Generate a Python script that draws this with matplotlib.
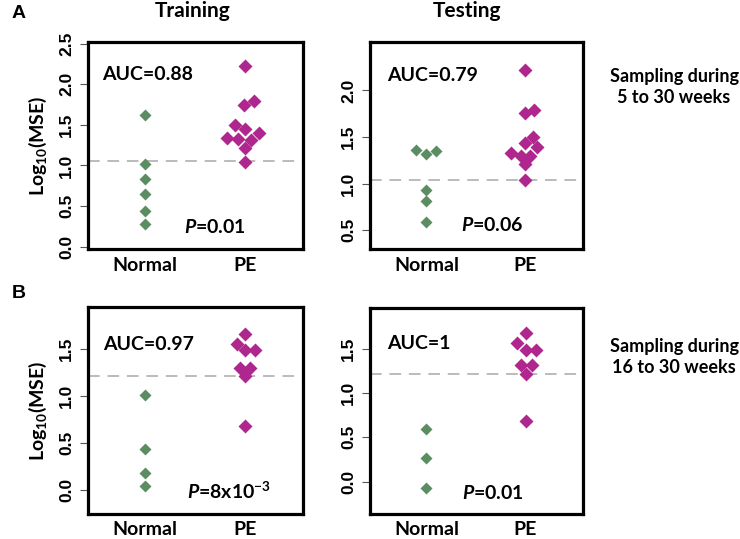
import matplotlib
matplotlib.use("Agg")
import matplotlib.pyplot as plt

plt.rcParams['font.family'] = ['Lato', 'DejaVu Sans']
plt.rcParams['mathtext.fontset'] = 'custom'
plt.rcParams['mathtext.rm'] = 'Lato:bold'
plt.rcParams['mathtext.it'] = 'Lato:bold:italic'
plt.rcParams['mathtext.bf'] = 'Lato:bold'

categories = ["Normal", "PE"]

# Panel A training
a_tr_normal = [1.62, 1.02, 0.83, 0.65, 0.44, 0.28]
a_tr_normal_x = [1.0, 1.0, 1.0, 1.0, 1.0, 1.0]
a_tr_pe = [2.22, 1.75, 1.79, 1.50, 1.45, 1.34, 1.32, 1.31, 1.40, 1.22, 1.04]
a_tr_pe_x = [2.0, 1.99, 2.09, 1.90, 2.0, 1.82, 1.93, 2.06, 2.14, 2.0, 2.0]
# Panel A testing
a_te_normal = [1.357, 1.318, 1.35, 0.936, 0.814, 0.586]
a_te_normal_x = [0.89, 1.0, 1.095, 1.0, 1.0, 1.0]
a_te_pe = [2.22, 1.757, 1.79, 1.50, 1.44, 1.39, 1.33, 1.30, 1.30, 1.21, 1.04]
a_te_pe_x = [1.99, 1.99, 2.09, 2.08, 1.99, 2.12, 1.85, 1.95, 2.05, 1.99, 1.99]
# Panel B training
b_tr_normal = [1.01, 0.433, 0.178, 0.039]
b_tr_normal_x = [1.0, 1.0, 1.0, 1.0]
b_tr_pe = [1.667, 1.553, 1.489, 1.489, 1.305, 1.305, 1.21, 0.678]
b_tr_pe_x = [2.0, 1.92, 2.0, 2.10, 1.95, 2.05, 2.0, 2.0]
# Panel B testing
b_te_normal = [0.593, 0.263, -0.076]
b_te_normal_x = [1.0, 1.0, 1.0]
b_te_pe = [1.68, 1.56, 1.49, 1.49, 1.315, 1.315, 1.213, 0.683]
b_te_pe_x = [2.0, 1.91, 2.0, 2.11, 1.95, 2.07, 2.0, 2.0]

thresholds = [1.05, 1.04, 1.21, 1.218]
auc_labels = ["AUC=0.88", "AUC=0.79", "AUC=0.97", "AUC=1"]
p_labels = [r"$\it{P}$=0.01", r"$\it{P}$=0.06", r"$\it{P}$=8x10$^{\mathregular{-3}}$", r"$\it{P}$=0.01"]
yticks_list = [[0.0, 0.5, 1.0, 1.5, 2.0, 2.5], [0.5, 1.0, 1.5, 2.0],
               [0.0, 0.5, 1.0, 1.5], [0.0, 0.5, 1.0, 1.5]]
ylims = [(-0.03, 2.52), (0.30, 2.52), (-0.255, 1.95), (-0.365, 1.96)]

panels = [
    (a_tr_normal_x, a_tr_normal, a_tr_pe_x, a_tr_pe),
    (a_te_normal_x, a_te_normal, a_te_pe_x, a_te_pe),
    (b_tr_normal_x, b_tr_normal, b_tr_pe_x, b_tr_pe),
    (b_te_normal_x, b_te_normal, b_te_pe_x, b_te_pe),
]

W, H = 740, 539
fig = plt.figure(figsize=(W / 100, H / 100), dpi=100)

boxes = [(88, 42, 303, 249), (370, 42, 583, 249), (88, 307, 303, 514), (370, 308, 583, 514)]
auc_pos = [(0.064, 0.845), (0.078, 0.84), (0.07, 0.82), (0.08, 0.827)]
p_pos = [(0.447, 0.108), (0.426, 0.116), (0.459, 0.112), (0.43, 0.103)]

green = "#5b8c62"
magenta = "#b0268f"

for i, (bx, (nx, ny, px, py)) in enumerate(zip(boxes, panels)):
    x0, y0, x1, y1 = bx
    ax = fig.add_axes([x0 / W, 1 - y1 / H, (x1 - x0) / W, (y1 - y0) / H])
    ax.axhline(thresholds[i], color="#bbbbbb", lw=1.4, ls=(0, (6, 4)), zorder=1)
    ax.plot(nx, ny, ls="none", marker="D", ms=6.5, color=green, mec="none", zorder=3)
    ax.plot(px, py, ls="none", marker="D", ms=7.5, color=magenta, mec="none", zorder=3)
    ax.set_xlim(0.43, 2.58)
    ax.set_ylim(*ylims[i])
    ax.set_yticks(yticks_list[i])
    ax.set_yticklabels([f"{t:.1f}" for t in yticks_list[i]], rotation=90, va="center",
                       fontfamily="Liberation Sans", fontweight="bold", fontsize=12.5)
    ax.tick_params(axis="y", length=6, width=0.8, color="#555555", pad=4)
    ax.set_xticks([1, 2])
    ax.set_xticklabels(categories, fontweight="bold", fontsize=14)
    ax.tick_params(axis="x", length=0, pad=5 if i >= 2 else 6)
    for s in ax.spines.values():
        s.set_linewidth(2.3)
        s.set_color("black")
    ax.text(auc_pos[i][0], auc_pos[i][1], auc_labels[i], transform=ax.transAxes,
            fontweight="bold", fontsize=14, ha="left", va="center")
    ax.text(p_pos[i][0], p_pos[i][1], p_labels[i], transform=ax.transAxes,
            fontweight="bold", fontsize=14, ha="left", va="center")
    if i in (0, 2):
        ax.set_ylabel(r"Log$_{\mathregular{10}}$(MSE)", fontweight="bold", fontsize=14, labelpad=7)

fig.text(12 / W, 1 - 14 / H, "A", fontfamily="Liberation Sans", fontweight="bold", fontsize=14, ha="left", va="center")
fig.text(12 / W, 1 - 293 / H, "B", fontfamily="Liberation Sans", fontweight="bold", fontsize=14, ha="left", va="center")
fig.text(193 / W, 1 - 11 / H, "Training", fontweight="bold", fontsize=15, ha="center", va="center")
fig.text(467 / W, 1 - 11 / H, "Testing", fontweight="bold", fontsize=15, ha="center", va="center")
fig.text(674 / W, 1 - 87 / H, "Sampling during\n5 to 30 weeks", fontweight="bold", fontsize=13,
         ha="center", va="center", linespacing=1.35)
fig.text(674 / W, 1 - 357 / H, "Sampling during\n16 to 30 weeks", fontweight="bold", fontsize=13,
         ha="center", va="center", linespacing=1.35)

fig.savefig("out.png", dpi=100)
